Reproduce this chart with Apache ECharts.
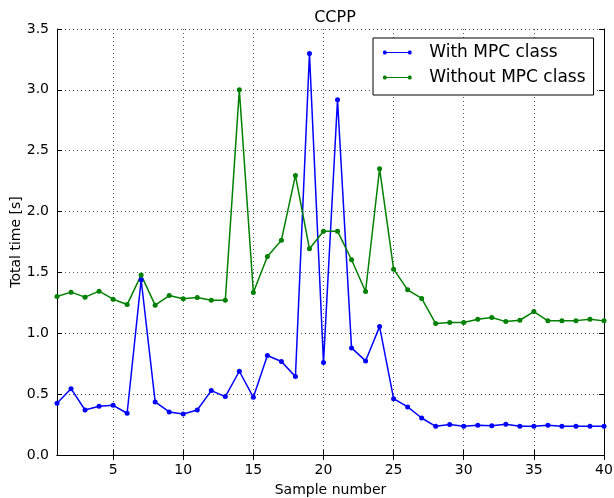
<!DOCTYPE html>
<html lang="en">
<head>
    <meta charset="UTF-8">
    <title>CCPP</title>
    <script src="https://cdn.jsdelivr.net/npm/echarts@6/dist/echarts.min.js"></script>
</head>
<body style="margin:0">
<div id="main" style="width: 614px; height: 498px"></div>
<script type="text/javascript">
    var samples = [];
    for (var i = 1; i <= 40; i++) samples.push(i);
    var withMpc = [0.425, 0.545, 0.37, 0.40, 0.408, 0.343, 1.44, 0.436, 0.354, 0.337,
        0.37, 0.529, 0.48, 0.688, 0.474, 0.817, 0.768, 0.644, 3.298, 0.759,
        2.919, 0.88, 0.773, 1.055, 0.463, 0.395, 0.304, 0.236, 0.25, 0.236,
        0.244, 0.24, 0.252, 0.236, 0.236, 0.244, 0.236, 0.236, 0.236, 0.236];
    var withoutMpc = [1.302, 1.338, 1.297, 1.346, 1.28, 1.236, 1.478, 1.231, 1.31, 1.283,
        1.294, 1.272, 1.272, 3.0, 1.335, 1.631, 1.765, 2.297, 1.694, 1.839,
        1.839, 1.604, 1.343, 2.352, 1.527, 1.357, 1.286, 1.08, 1.088, 1.088,
        1.116, 1.129, 1.096, 1.107, 1.178, 1.102, 1.102, 1.104, 1.116, 1.102];
    var xTicks = [5, 10, 15, 20, 25, 30, 35, 40];

    function pairs(ys) {
        return ys.map(function (y, i) { return [samples[i], y]; });
    }

    // legend marker: a line with a dot at each end, like matplotlib's
    var legendIcon = 'path://M0.7,1 L1.7,0 L3.3,0 L4.3,1 L4.3,3 L3.3,4 L1.7,4 L0.7,3 Z' +
        'M25.7,1 L26.7,0 L28.3,0 L29.3,1 L29.3,3 L28.3,4 L26.7,4 L25.7,3 Z' +
        'M2.5,1.4 L27.5,1.4 L27.5,2.6 L2.5,2.6 Z';

    var font = 'DejaVu Sans';
    var myChart = echarts.init(document.getElementById('main'));
    var option = {
        animation: false,
        backgroundColor: '#fff',
        textStyle: {fontFamily: font},
        title: {
            text: 'CCPP',
            left: 330, top: 5, textAlign: 'center',
            textStyle: {fontFamily: font, fontSize: 16, fontWeight: 'normal', color: '#000'}
        },
        legend: {
            orient: 'vertical',
            left: 373, top: 38,
            padding: [6, 8, 9, 10],
            itemGap: 8,
            itemWidth: 30, itemHeight: 4,
            icon: legendIcon,
            borderColor: '#000', borderWidth: 1,
            backgroundColor: '#fff',
            textStyle: {fontFamily: font, fontSize: 17, color: '#000', padding: [0, 0, 0, 12]},
            data: [
                {name: 'With MPC class', itemStyle: {color: '#0000ff', borderWidth: 0}},
                {name: 'Without MPC class', itemStyle: {color: '#008000', borderWidth: 0}}
            ]
        },
        grid: {left: 57, right: 10, top: 29, bottom: 43, outerBoundsMode: 'none', containLabel: false},
        xAxis: [{
            type: 'value', min: 1, max: 40,
            name: 'Sample number', nameLocation: 'middle', nameGap: 28, nameMoveOverlap: false,
            nameTextStyle: {fontFamily: font, fontSize: 14, color: '#000'},
            axisLine: {lineStyle: {color: '#000', width: 1}},
            axisTick: {inside: true, length: 5, customValues: xTicks, lineStyle: {color: '#000'}},
            axisLabel: {customValues: xTicks, fontFamily: font, fontSize: 14, color: '#000', margin: 8},
            splitLine: {show: true, lineStyle: {color: '#555', type: [1, 3]}}
        }, {
            type: 'value', min: 1, max: 40, position: 'top',
            axisLine: {lineStyle: {color: '#000', width: 1}},
            axisTick: {inside: true, length: 5, customValues: xTicks, lineStyle: {color: '#000'}},
            axisLabel: {show: false},
            splitLine: {show: false}
        }],
        yAxis: [{
            type: 'value', min: 0, max: 3.5, interval: 0.5,
            name: 'Total time [s]', nameLocation: 'middle', nameGap: 34, nameMoveOverlap: false,
            nameTextStyle: {fontFamily: font, fontSize: 14, color: '#000'},
            axisLine: {show: true, lineStyle: {color: '#000', width: 1}},
            axisTick: {show: true, inside: true, length: 5, lineStyle: {color: '#000'}},
            axisLabel: {
                fontFamily: font, fontSize: 14, color: '#000', margin: 8,
                formatter: function (v) { return v.toFixed(1); }
            },
            splitLine: {show: true, lineStyle: {color: '#555', type: [1, 3]}}
        }, {
            type: 'value', min: 0, max: 3.5, interval: 0.5, position: 'right',
            axisLine: {show: true, lineStyle: {color: '#000', width: 1}},
            axisTick: {show: true, inside: true, length: 5, lineStyle: {color: '#000'}},
            axisLabel: {show: false},
            splitLine: {show: false}
        }],
        series: [{
            name: 'With MPC class', type: 'line',
            data: pairs(withMpc),
            color: '#0000ff',
            symbol: 'circle', symbolSize: 5, showAllSymbol: true,
            lineStyle: {width: 1.5}
        }, {
            name: 'Without MPC class', type: 'line',
            data: pairs(withoutMpc),
            color: '#008000',
            symbol: 'circle', symbolSize: 5, showAllSymbol: true,
            lineStyle: {width: 1.5}
        }]
    };
    myChart.setOption(option);
</script>
</body>
</html>
